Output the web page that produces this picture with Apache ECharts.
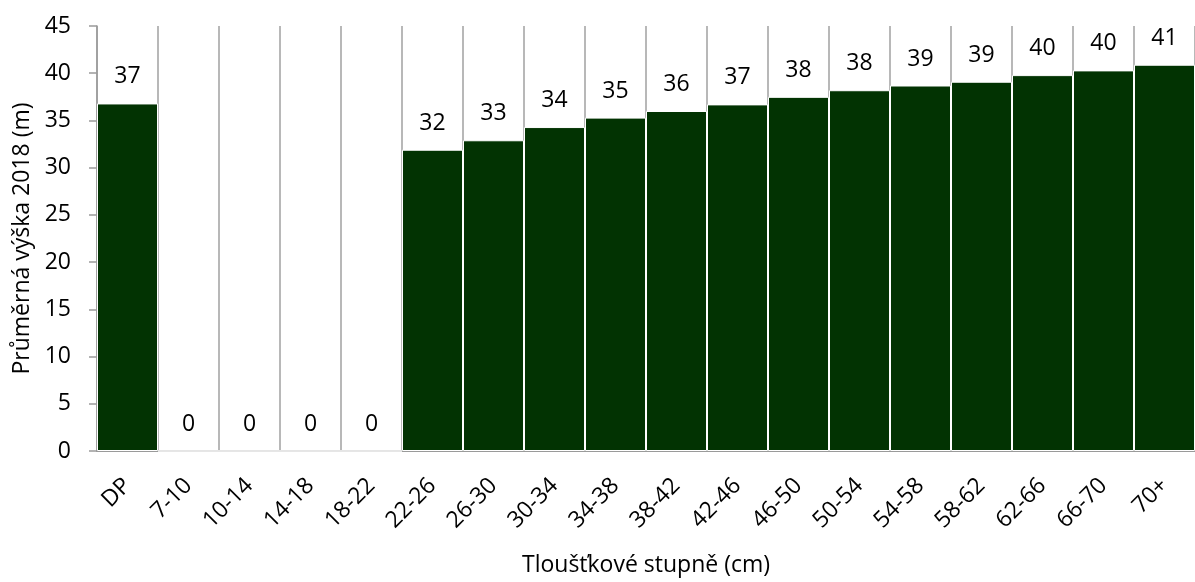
<!DOCTYPE html>
<html><head><meta charset="utf-8">
<script src="https://cdn.jsdelivr.net/npm/echarts@6/dist/echarts.min.js"></script>
<style>html,body{margin:0;padding:0;background:#fff}#c{width:1195px;height:582px}</style>
</head><body><div id="c"></div>
<script>
const categories = ["DP","7-10","10-14","14-18","18-22","22-26","26-30","30-34","34-38","38-42","42-46","46-50","50-54","54-58","58-62","62-66","66-70","70+"];
const heights = [36.8,0,0,0,0,31.9,32.9,34.3,35.3,36.0,36.7,37.5,38.2,38.7,39.1,39.8,40.3,40.9];
const yTitle = "Průměrná výška 2018 (m)";
const xTitle = "Tloušťkové stupně (cm)";
const FONT = "Open Sans";
const chart = echarts.init(document.getElementById('c'));
chart.setOption({
  animation:false,
  textStyle:{fontFamily:FONT,color:'#000'},
  grid:{left:97,right:0,top:26,bottom:125,containLabel:false},
  xAxis:{type:'category',data:categories,
    name:xTitle,nameLocation:'middle',nameGap:103,
    nameTextStyle:{fontSize:23,color:'#000',fontFamily:FONT},
    axisLine:{show:true,lineStyle:{color:'#9a9a9a',width:2}},
    axisTick:{show:false},
    axisLabel:{interval:0,rotate:45,margin:31,fontSize:23,color:'#000',fontFamily:FONT},
    splitLine:{show:true,interval:0,lineStyle:{color:'#a0a0a0',width:1.5}}
  },
  yAxis:{type:'value',min:0,max:45,interval:5,
    name:yTitle,nameLocation:'middle',nameGap:63,
    nameTextStyle:{fontSize:23,color:'#000',fontFamily:FONT},
    axisLine:{show:true,lineStyle:{color:'#9a9a9a',width:1.5}},
    axisTick:{show:true,length:8,lineStyle:{color:'#9a9a9a',width:1.5}},
    axisLabel:{fontSize:23,color:'#000',margin:26,fontFamily:FONT},
    splitLine:{show:false}
  },
  series:[{type:'bar',data:heights,barCategoryGap:'0%',
    itemStyle:{color:'#023302',borderColor:'#fff',borderWidth:1},
    label:{show:true,position:'top',distance:15,fontSize:23,color:'#000',fontFamily:FONT,
      formatter:p=>Math.round(p.value)}
  }]
});
</script></body></html>
